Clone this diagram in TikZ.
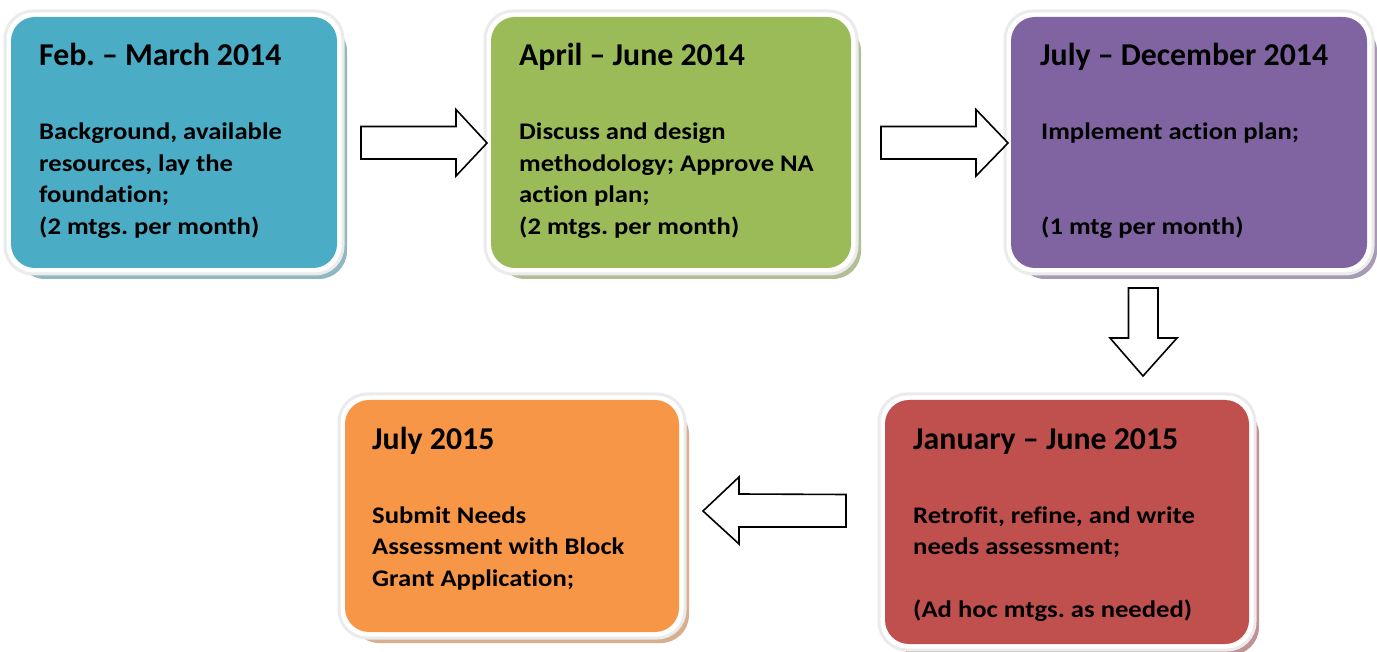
\documentclass[tikz,border=0pt]{standalone}
\usepackage{fontspec}
\setmainfont{Carlito}[RawFeature={-liga}]
\newfontfamily\bodyfont{Carlito}[RawFeature={-liga},FakeStretch=1.12]
\definecolor{cblue}{HTML}{4BACC6}
\definecolor{cgreen}{HTML}{9BBB59}
\definecolor{cpurple}{HTML}{8064A2}
\definecolor{cred}{HTML}{C0504D}
\definecolor{corange}{HTML}{F79646}
\definecolor{frame}{HTML}{EBEBEB}
\begin{document}
\frenchspacing
\begin{tikzpicture}[x=1pt,y=-1pt,
  title/.style={anchor=base west,inner sep=0pt,font=\frenchspacing\bfseries\fontsize{31.8}{32}\selectfont},
  body/.style={anchor=base west,inner sep=0pt,font=\frenchspacing\bodyfont\bfseries\fontsize{23.8}{32}\selectfont},
  blockarrow/.style={draw=black,line width=1.6pt,fill=white,line join=miter}]
\useasboundingbox (0,0) rectangle (1377,652);
\newcommand{\tlbox}[5]{%
  \fill[#5!60!gray!70,rounded corners=28pt] (#1+6,#2+6) rectangle (#3+10,#4+11);
  \draw[frame,fill=white,line width=3pt,rounded corners=28pt] (#1-6,#2-6) rectangle (#3+6,#4+6);
  \fill[#5,rounded corners=24pt] (#1,#2) rectangle (#3,#4);}
\tlbox{11}{17}{337}{268}{cblue}
\tlbox{491}{17}{851}{268}{cgreen}
\tlbox{1011}{17}{1367}{268}{cpurple}
\tlbox{885}{400}{1249}{644}{cred}
\tlbox{345}{400}{679}{632}{corange}
% text
\node[title] (t1) at (39,66) {Feb. – March 2014};
\node[body] (b1a) at (39,140) {Background, available};
\node[body] (b1b) at (39,171.5) {resources, lay the};
\node[body] (b1c) at (39,203) {foundation;};
\node[body] (b1d) at (39,234.5) {(2 mtgs. per month)};
\node[title] (t2) at (519,66) {April – June 2014};
\node[body] (b2a) at (519,140) {Discuss and design};
\node[body] (b2b) at (519,171.5) {methodology; Approve NA};
\node[body] (b2c) at (519,203) {action plan;};
\node[body] (b2d) at (519,234.5) {(2 mtgs. per month)};
\node[title] (t3) at (1040,66) {July – December 2014};
\node[body] (b3a) at (1041,140) {Implement action plan;};
\node[body] (b3d) at (1041,234.5) {(1 mtg per month)};
\node[title] (t4) at (913,449) {January – June 2015};
\node[body] (b4a) at (913,523) {Retrofit, refine, and write};
\node[body] (b4b) at (913,554.5) {needs assessment;};
\node[body] (b4d) at (913,617.5) {(Ad hoc mtgs. as needed)};
\node[title] (t5) at (372,449) {July 2015};
\node[body] (b5a) at (372,523) {Submit Needs};
\node[body] (b5b) at (372,554.5) {Assessment with Block};
\node[body] (b5c) at (372,586) {Grant Application;};
% block arrows
\coordinate (a1) at (361,143);
\draw[blockarrow] (a1) ++(0,-16.5) -- ++(95,0) -- ++(0,-17) -- (487,143) -- (456,176) -- ++(0,-17) -- ++(-95,0) -- cycle;
\coordinate (a2) at (881,143);
\draw[blockarrow] (a2) ++(0,-16.5) -- ++(95,0) -- ++(0,-17) -- (1008,143) -- (976,176) -- ++(0,-17) -- ++(-95,0) -- cycle;
\coordinate (a3) at (1143,288);
\draw[blockarrow] (a3) ++(-14.5,0) -- ++(0,50) -- (1110,338) -- (1143,376) -- (1177,338) -- (1158,338) -- (1158,288) -- cycle;
\coordinate (a4) at (846,511);
\draw[blockarrow] (a4) ++(0,-16.5) -- (739,494) -- (739,477) -- (703,511) -- (739,544) -- (739,527) -- (846,527) -- cycle;
\end{tikzpicture}
\end{document}
